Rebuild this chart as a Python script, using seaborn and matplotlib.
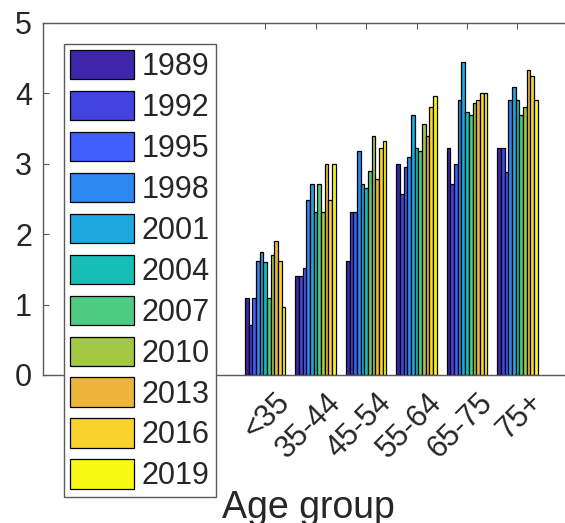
import numpy as np
import pandas as pd
import matplotlib
matplotlib.use("Agg")
import matplotlib.pyplot as plt
import matplotlib.transforms as mtransforms
import seaborn as sns

groups = ["<35", "35-44", "45-54", "55-64", "65-75", "75+"]
years = ["1989", "1992", "1995", "1998", "2001", "2004", "2007", "2010", "2013", "2016", "2019"]

v1989 = [1.10, 1.40, 1.62, 3.00, 3.22, 3.22]
v1992 = [0.71, 1.40, 2.31, 2.57, 2.71, 3.22]
v1995 = [1.10, 1.52, 2.31, 2.95, 3.00, 2.89]
v1998 = [1.62, 2.49, 3.18, 3.10, 3.91, 3.91]
v2001 = [1.75, 2.71, 2.71, 3.69, 4.44, 4.09]
v2004 = [1.60, 2.31, 2.65, 3.22, 3.74, 3.91]
v2007 = [1.10, 2.71, 2.90, 3.18, 3.69, 3.69]
v2010 = [1.70, 2.31, 3.40, 3.56, 3.87, 3.81]
v2013 = [1.90, 3.00, 2.78, 3.40, 3.91, 4.33]
v2016 = [1.62, 2.49, 3.22, 3.81, 4.00, 4.25]
v2019 = [0.97, 3.00, 3.33, 3.97, 4.00, 3.91]

series = [v1989, v1992, v1995, v1998, v2001, v2004, v2007, v2010, v2013, v2016, v2019]

colors = ["#3E26A8", "#4343E0", "#3F5EFB", "#2C88F0", "#1CA8DE", "#18BEB6",
          "#4ECB82", "#A2C843", "#EDB63A", "#F9D32B", "#F9FA14"]

rows = []
for y, vals in zip(years, series):
    for g, v in zip(groups, vals):
        rows.append({"Age group": g, "Year": y, "Value": v})
df = pd.DataFrame(rows)

sns.set_theme(style="white")
plt.rcParams['font.family'] = ['Liberation Sans', 'DejaVu Sans']

fig = plt.figure(figsize=(5.65, 5.23), dpi=100)
ax = fig.add_axes([43/565, 1 - 375/523, 530/565, (375 - 23)/523])

sns.barplot(data=df, x="Age group", y="Value", hue="Year", order=groups,
            hue_order=years, palette=colors, width=0.8, edgecolor="black",
            linewidth=0.9, saturation=1, ax=ax, legend=True)

ax.set_xlim(-4.4, 6.1)
ax.set_ylim(0, 5)
ax.set_yticks([0, 1, 2, 3, 4, 5])
ax.set_ylabel("")
ax.set_xlabel("Age group", fontsize=27, color="#262626", labelpad=19)

for s in ax.spines.values():
    s.set_color("#5a5a5a")
    s.set_linewidth(1.0)

ax.tick_params(axis="both", direction="in", length=4, width=0.8, color="#5a5a5a",
               labelsize=22, labelcolor="#262626", top=True, right=True, bottom=True, left=True)
ax.tick_params(axis="y", pad=8)
ax.tick_params(axis="x", pad=6)
offset = mtransforms.ScaledTranslation(10/100, -4/100, fig.dpi_scale_trans)
for lab in ax.get_xticklabels():
    lab.set_rotation(45)
    lab.set_ha("right")
    lab.set_va("top")
    lab.set_rotation_mode("anchor")
    lab.set_transform(lab.get_transform() + offset)

handles, labels = ax.get_legend_handles_labels()
ax.legend(handles, labels, loc="upper left",
          bbox_to_anchor=(64/565, 1 - 44/523), bbox_transform=fig.transFigure,
          borderaxespad=0, fontsize=22, frameon=True, fancybox=False,
          framealpha=1, edgecolor="#5a5a5a", handlelength=2.09, handleheight=1.1,
          handletextpad=0.26, borderpad=0.2, labelspacing=0.29, title=None)
leg = ax.get_legend()
leg.get_frame().set_linewidth(1.0)
leg.set_clip_on(False)

fig.savefig("out.png", dpi=100)
